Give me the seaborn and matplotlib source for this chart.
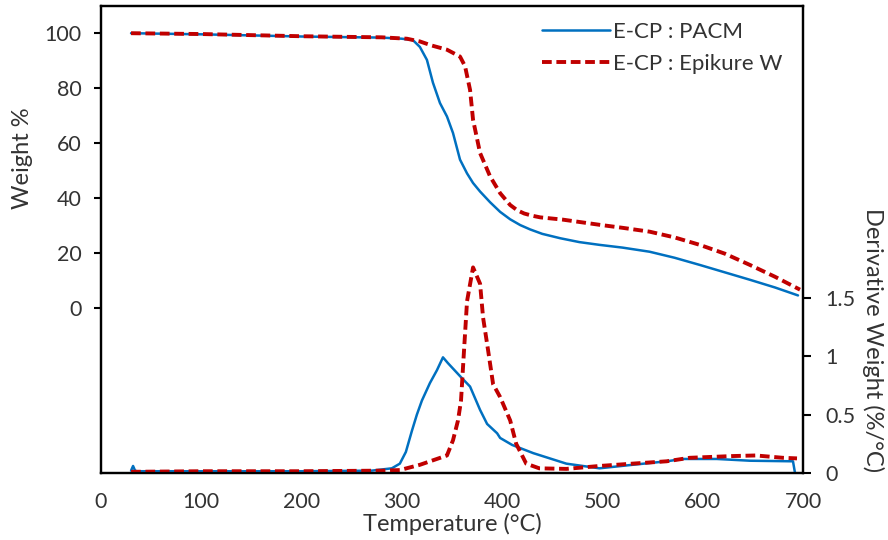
import matplotlib
matplotlib.use("Agg")
import matplotlib.pyplot as plt
import seaborn as sns

# ── TGA curves (weight %) ──
temp_tga_pacm = [30, 100, 200, 280, 300, 311, 318, 325, 331, 338, 345, 351, 358,
                 365, 371, 378, 388, 398, 408, 418, 428, 440, 458, 477, 497, 520,
                 547, 572, 597, 622, 647, 672, 695]
wt_pacm = [100, 99.6, 98.8, 98.4, 98.0, 97.5, 95, 90.3, 82, 74.6, 69.7, 63.7, 54,
           49, 45.5, 42.4, 38.5, 35, 32.3, 30.2, 28.6, 27.0, 25.4, 24.0, 23, 22,
           20.5, 18.3, 15.7, 13.0, 10.3, 7.5, 4.6]

temp_tga_epi = [30, 100, 200, 280, 305, 318, 330, 345, 358, 363, 368, 371, 378,
                388, 398, 408, 415, 422, 430, 438, 460, 497, 520, 547, 572, 597,
                622, 647, 672, 697]
wt_epi = [100, 99.7, 98.9, 98.5, 98.0, 97, 95.5, 94, 91.5, 88, 79.4, 68.5, 56.4,
          47.9, 41.8, 37.5, 35.6, 34.4, 33.6, 33, 32.2, 30.3, 29.2, 27.8, 25.7, 23,
          19.8, 15.7, 11.4, 6.7]

# ── DTG curves (derivative weight, %/°C) ──
temp_dtg_pacm = [30, 32, 34, 36, 100, 200, 270, 290, 298, 304, 310, 315, 320, 328,
                 335, 341, 346, 359, 368, 378, 385, 395, 398, 410, 431, 464, 497,
                 530, 564, 580, 614, 647, 690, 692]
dtg_pacm = [0.02, 0.06, 0.02, 0.015, 0.015, 0.015, 0.02, 0.04, 0.08, 0.18, 0.36,
            0.5, 0.62, 0.77, 0.88, 0.99, 0.94, 0.82, 0.74, 0.54, 0.42, 0.34, 0.3,
            0.24, 0.17, 0.08, 0.04, 0.07, 0.1, 0.12, 0.12, 0.105, 0.1, 0.0]

temp_dtg_epi = [30, 100, 200, 280, 298, 318, 345, 351, 356, 359, 362, 365, 371,
                378, 381, 386, 391, 398, 408, 414, 424, 437, 464, 497, 530, 564,
                587, 630, 653, 680, 694]
dtg_epi = [0.01, 0.015, 0.015, 0.02, 0.025, 0.07, 0.15, 0.28, 0.45, 0.62, 1.05,
           1.47, 1.76, 1.62, 1.33, 1.05, 0.76, 0.65, 0.45, 0.25, 0.08, 0.04, 0.035,
           0.06, 0.08, 0.1, 0.13, 0.145, 0.15, 0.13, 0.125]

x_ticks = [0, 100, 200, 300, 400, 500, 600, 700]
wt_ticks = [0, 20, 40, 60, 80, 100]
dtg_ticks = [0, 0.5, 1, 1.5]
dtg_tick_labels = ["0", "0.5", "1", "1.5"]

BLUE = "#0070C0"
RED = "#C00000"
TXT = "#333333"

sns.set_theme(style="white")
plt.rcParams['font.family'] = ['Lato', 'DejaVu Sans']
plt.rcParams['font.size'] = 15

fig = plt.figure(figsize=(8.88, 5.4), dpi=100)
ax = fig.add_axes([0.1137, 0.1241, 0.7906, 0.8653])
ax2 = ax.twinx()

dash = (0, (2.5, 1.2))

# ── Weight curves on the left axis ──
sns.lineplot(x=temp_tga_pacm, y=wt_pacm, ax=ax, color=BLUE, lw=1.8,
             estimator=None, label="E-CP : PACM")
sns.lineplot(x=temp_tga_epi, y=wt_epi, ax=ax, color=RED, lw=2.8, linestyle=dash,
             estimator=None, label="E-CP : Epikure W")

# ── Derivative curves on the right axis ──
sns.lineplot(x=temp_dtg_pacm, y=dtg_pacm, ax=ax2, color=BLUE, lw=1.8, estimator=None)
sns.lineplot(x=temp_dtg_epi, y=dtg_epi, ax=ax2, color=RED, lw=2.8, linestyle=dash,
             estimator=None)

ax.set_xlim(0, 700)
ax.set_ylim(-60, 110)
ax2.set_ylim(0, 4)
ax.set_xticks(x_ticks)
ax.set_yticks(wt_ticks)
ax2.set_yticks(dtg_ticks)
ax2.set_yticklabels(dtg_tick_labels)

for a in (ax, ax2):
    for s in a.spines.values():
        s.set_color("black")
        s.set_linewidth(1.6)
        s.set_visible(True)

ax.tick_params(axis="x", length=0, pad=14, labelsize=15.5, labelcolor=TXT)
ax.tick_params(axis="y", left=True, direction="out", length=5, width=1.5,
               color="black", pad=9, labelsize=15.5, labelcolor=TXT)
ax2.tick_params(axis="y", right=True, direction="out", length=6, width=1.5,
                color="black", pad=10, labelsize=15.5, labelcolor=TXT)

ax.set_xlabel("Temperature (°C)", fontsize=17, color=TXT)
ax.xaxis.set_label_coords(0.5, -0.085)
ax.set_ylabel("Weight %", fontsize=17, color=TXT)
ax.yaxis.set_label_coords(-0.097, 0.674)
ax2.set_ylabel("Derivative Weight (%/°C)", fontsize=17, color=TXT,
               rotation=270, va="center")
ax2.yaxis.set_label_coords(1.1, 0.285)

ax.legend(loc="upper left", bbox_to_anchor=(0.612, 0.99), frameon=False,
          borderpad=0, handlelength=3.05, handletextpad=0.15, labelspacing=0.55,
          fontsize=16, labelcolor=TXT)

fig.savefig("out.png", dpi=100)
